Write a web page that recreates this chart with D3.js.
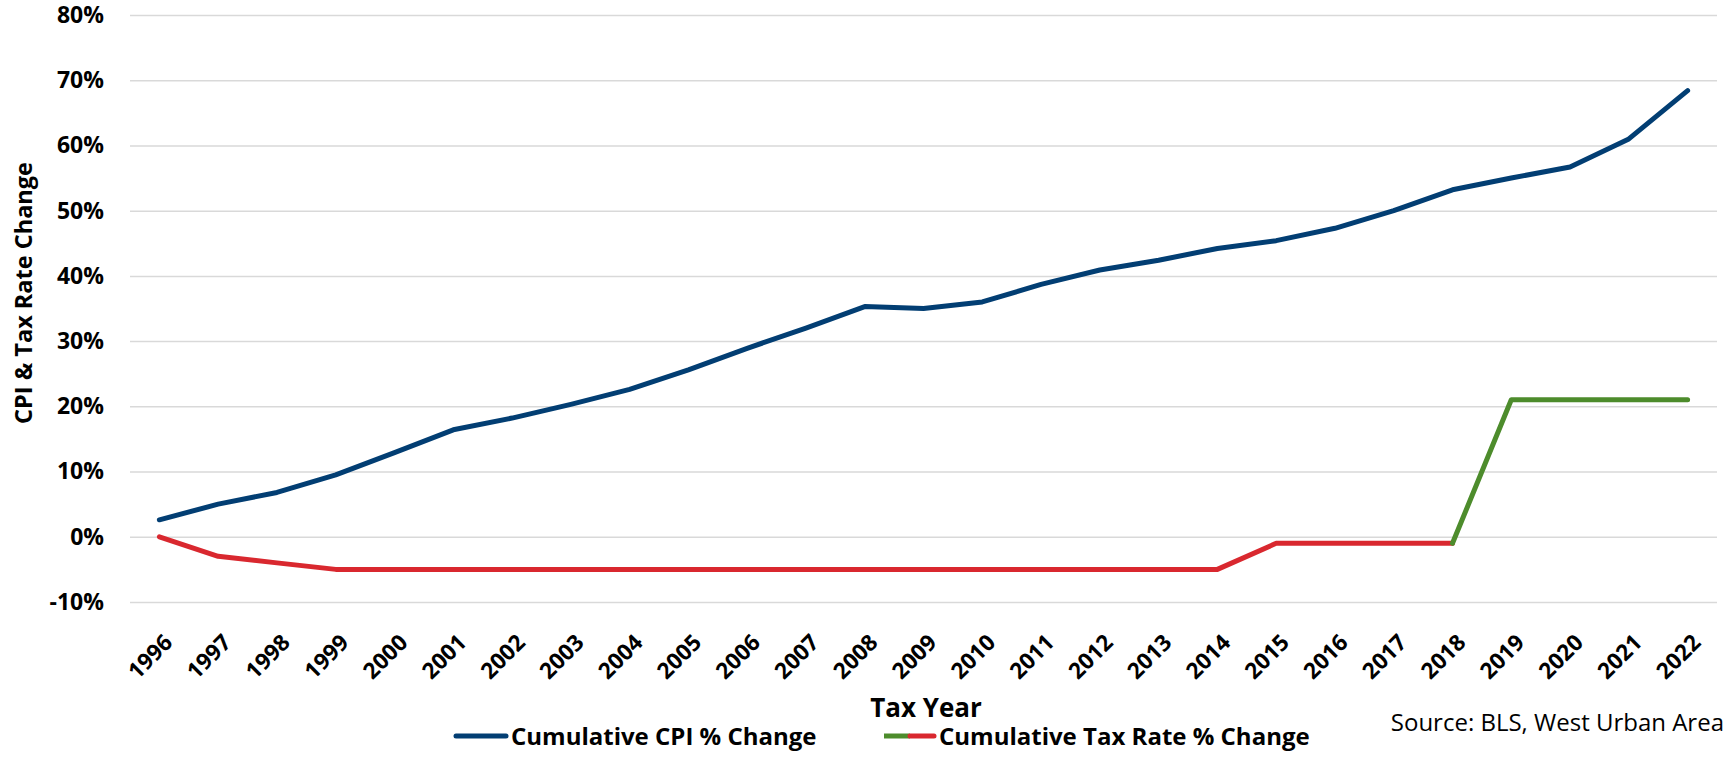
<!DOCTYPE html>
<html>
<head>
<meta charset="utf-8">
<script src="https://cdn.jsdelivr.net/npm/d3@7"></script>
<style>
  body { margin: 0; background: #fff; }
  text { font-family: "Open Sans", sans-serif; fill: #000; }
</style>
</head>
<body>
<div id="chart"></div>
<script>
// tax years on the x axis
var years = ["1996", "1997", "1998", "1999", "2000", "2001", "2002", "2003", "2004",
    "2005", "2006", "2007", "2008", "2009", "2010", "2011", "2012", "2013", "2014",
    "2015", "2016", "2017", "2018", "2019", "2020", "2021", "2022"];

// cumulative % change
var cpiChange = [2.6, 5.0, 6.8, 9.5, 12.9, 16.4, 18.2, 20.3, 22.6, 25.6, 28.9, 32.0, 35.3,
    35.0, 36.0, 38.7, 40.9, 42.4, 44.2, 45.4, 47.3, 50.0, 53.2, 55.0, 56.7, 61.0, 68.4];
var taxChange = [0, -3.0, -4.0, -5.0, -5.0, -5.0, -5.0, -5.0, -5.0, -5.0, -5.0, -5.0, -5.0,
    -5.0, -5.0, -5.0, -5.0, -5.0, -5.0, -1.0, -1.0, -1.0, -1.0, 21.0, 21.0, 21.0, 21.0];

var yTicks = [-10, 0, 10, 20, 30, 40, 50, 60, 70, 80];
var seriesNames = ["Cumulative CPI % Change", "Cumulative Tax Rate % Change"];

var blue = "#023e73", red = "#d9282f", green = "#4d8c2c";

var W = 1729, H = 757;
var margin = { top: 15, right: 12, bottom: 155, left: 130 },
    width = W - margin.left - margin.right,
    height = H - margin.top - margin.bottom;

var svg = d3.select("#chart")
    .append("svg")
    .attr("width", W)
    .attr("height", H);

var g = svg.append("g")
    .attr("transform", "translate(" + margin.left + "," + margin.top + ")");

var x = d3.scalePoint()
    .domain(years)
    .range([0, width])
    .padding(0.5);

var y = d3.scaleLinear()
    .domain([-10, 80])
    .range([height, 0]);

// gridlines + y labels
var yAxis = g.append("g")
    .call(d3.axisLeft(y).tickValues(yTicks).tickSize(-width).tickPadding(26)
        .tickFormat(function (d) { return d + "%"; }));
yAxis.select(".domain").remove();
yAxis.selectAll(".tick line").attr("stroke", "#d9d9d9").attr("stroke-width", 1.5);
yAxis.selectAll(".tick text")
    .attr("font-size", 23)
    .attr("font-weight", 700)
    .attr("font-family", "Open Sans");

// x labels, rotated
var xAxis = g.append("g")
    .attr("transform", "translate(0," + height + ")")
    .call(d3.axisBottom(x).tickSize(0).tickPadding(0));
xAxis.select(".domain").remove();
xAxis.selectAll(".tick text")
    .attr("font-size", 22.5)
    .attr("font-weight", 700)
    .attr("font-family", "Open Sans")
    .attr("text-anchor", "end")
    .attr("dy", null)
    .attr("y", null)
    .attr("transform", "translate(14,42) rotate(-45)");

var line = d3.line()
    .x(function (d) { return x(d.year); })
    .y(function (d) { return y(d.value); });

var cpiData = years.map(function (yr, i) { return { year: yr, value: cpiChange[i] }; });
var taxData = years.map(function (yr, i) { return { year: yr, value: taxChange[i] }; });

// tax line is red up to 2018, green after
var split = years.indexOf("2018");

g.append("path")
    .datum(taxData.slice(0, split + 1))
    .attr("fill", "none")
    .attr("stroke", red)
    .attr("stroke-width", 5)
    .attr("stroke-linecap", "round")
    .attr("stroke-linejoin", "round")
    .attr("d", line);

g.append("path")
    .datum(taxData.slice(split))
    .attr("fill", "none")
    .attr("stroke", green)
    .attr("stroke-width", 5)
    .attr("stroke-linecap", "round")
    .attr("stroke-linejoin", "round")
    .attr("d", line);

g.append("path")
    .datum(cpiData)
    .attr("fill", "none")
    .attr("stroke", blue)
    .attr("stroke-width", 5)
    .attr("stroke-linecap", "round")
    .attr("stroke-linejoin", "round")
    .attr("d", line);

// axis titles
svg.append("text")
    .attr("transform", "translate(32,293) rotate(-90)")
    .attr("text-anchor", "middle")
    .attr("font-size", 23.5)
    .attr("font-weight", 700)
    .text("CPI & Tax Rate Change");

svg.append("text")
    .attr("x", 926)
    .attr("y", 717)
    .attr("text-anchor", "middle")
    .attr("font-size", 26)
    .attr("font-weight", 700)
    .text("Tax Year");

// legend
var leg = svg.append("g").attr("transform", "translate(0,736)");
leg.append("line")
    .attr("x1", 456).attr("x2", 506).attr("y1", 0).attr("y2", 0)
    .attr("stroke", blue).attr("stroke-width", 5).attr("stroke-linecap", "round");
leg.append("text")
    .attr("x", 511).attr("y", 8.5)
    .attr("font-size", 24).attr("font-weight", 700)
    .text(seriesNames[0]);

leg.append("line")
    .attr("x1", 884).attr("x2", 910).attr("y1", 0).attr("y2", 0)
    .attr("stroke", green).attr("stroke-width", 5);
leg.append("line")
    .attr("x1", 910).attr("x2", 934).attr("y1", 0).attr("y2", 0)
    .attr("stroke", red).attr("stroke-width", 5).attr("stroke-linecap", "round");
leg.append("text")
    .attr("x", 939).attr("y", 8.5)
    .attr("font-size", 24).attr("font-weight", 700)
    .text(seriesNames[1]);

svg.append("text")
    .attr("x", 1724)
    .attr("y", 731)
    .attr("text-anchor", "end")
    .attr("font-size", 24)
    .text("Source: BLS, West Urban Area");
</script>
</body>
</html>
